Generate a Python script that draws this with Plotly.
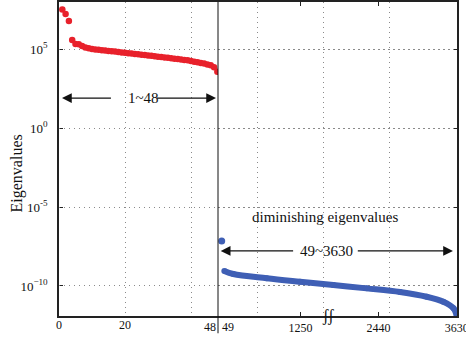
import plotly.graph_objects as go

# ---- data ----
red_idx = list(range(1, 49))
red_vals = [3.24e7, 1.66e7, 5.89e6, 3.72e5, 2.09e5, 2.00e5, 1.55e5, 1.26e5, 1.12e5, 1.02e5,
            9.55e4, 9.12e4, 8.51e4, 8.13e4, 7.59e4, 7.24e4, 6.92e4, 6.46e4, 6.17e4, 5.75e4,
            5.50e4, 5.25e4, 4.90e4, 4.68e4, 4.37e4, 4.17e4, 3.98e4, 3.72e4, 3.55e4, 3.31e4,
            3.16e4, 2.95e4, 2.82e4, 2.63e4, 2.45e4, 2.34e4, 2.19e4, 2.04e4, 1.95e4, 1.78e4,
            1.58e4, 1.45e4, 1.32e4, 1.20e4, 1.07e4, 9.33e3, 7.08e3, 3.63e3]

blue_first_idx = [49]
blue_first_val = [7.1e-8]
blue_idx = [89, 226, 735, 1242, 1750, 2259, 2767, 3173, 3426, 3581, 3630]
blue_vals = [8.9e-10, 5.75e-10, 3.09e-10, 1.86e-10, 1.15e-10, 7.08e-11, 4.17e-11,
             2.09e-11, 1.0e-11, 3.89e-12, 1.41e-12]

left_ticks = [0, 20]
right_ticks = [1250, 2440, 3630]
y_tickvals = [1e-10, 1e-5, 1, 1e5]
y_ticktext = ["10<sup>\u221210</sup>", "10<sup>-5</sup>", "10<sup>0</sup>", "10<sup>5</sup>"]

RED = "#E8212B"
BLUE = "#3F5FB5"
FONT = "Liberation Serif"
SPLIT = 0.3995

fig = go.Figure()
# invisible trace to create the full-width grid subplot
fig.add_trace(go.Scatter(x=[0], y=[1], xaxis="x", yaxis="y", mode="markers",
                         marker=dict(opacity=0), showlegend=False, hoverinfo="skip"))
fig.add_trace(go.Scatter(x=red_idx, y=red_vals, xaxis="x2", yaxis="y", mode="markers",
                         marker=dict(color=RED, size=6.5), showlegend=False))
fig.add_trace(go.Scatter(x=blue_first_idx, y=blue_first_val, xaxis="x3", yaxis="y", mode="markers",
                         marker=dict(color=BLUE, size=7), showlegend=False))
fig.add_trace(go.Scatter(x=blue_idx, y=blue_vals, xaxis="x3", yaxis="y", mode="lines+markers",
                         line=dict(color=BLUE, width=6, shape="spline"),
                         marker=dict(color=BLUE, size=6), showlegend=False))

axcol = "#222222"
gridcol = "#8a8a8a"
GDASH = "1px,4px"

fig.update_layout(
    width=466, height=339,
    margin=dict(l=59, r=9, t=2, b=23),
    paper_bgcolor="white", plot_bgcolor="rgba(0,0,0,0)",
    font=dict(family=FONT, size=13, color="#111"),
    xaxis=dict(domain=[0, 1], range=[0, 120.6], tickvals=[20, 40, 60, 80, 100],
               showticklabels=False, ticks="", showgrid=True, gridcolor=gridcol,
               griddash=GDASH, gridwidth=1, zeroline=False, showline=True,
               linecolor=axcol, linewidth=1.5, mirror=True, anchor="y", automargin=False),
    xaxis2=dict(domain=[0, SPLIT], range=[0, 48.2], tickvals=left_ticks, ticks="",
                showgrid=False, zeroline=False, showline=False, anchor="y", automargin=False,
                tickfont=dict(family=FONT, size=12)),
    xaxis3=dict(domain=[SPLIT, 1], range=[-7.4, 3634.6], tickvals=right_ticks,
                ticks="inside", ticklen=4, tickcolor=axcol, showgrid=False, zeroline=False,
                showline=True, linecolor=axcol, linewidth=1.5, mirror="ticks", anchor="y",
                automargin=False, ticklabeloverflow="allow", tickfont=dict(family=FONT, size=12)),
    yaxis=dict(type="log", range=[-11.9, 7.98], tickvals=y_tickvals, ticktext=y_ticktext,
               ticks="inside", ticklen=4, tickcolor=axcol, showgrid=True, gridcolor=gridcol,
               griddash=GDASH, gridwidth=1, zeroline=False, showline=True, linecolor=axcol,
               linewidth=1.5, mirror="ticks", anchor="x", ticklabelstandoff=7, automargin=False,
               tickfont=dict(family=FONT, size=13)),
)

# separator between the two index ranges
fig.add_shape(type="line", xref="paper", yref="paper", x0=SPLIT, x1=SPLIT, y0=-0.055, y1=1,
              line=dict(color="#111", width=1))

ann = []
# y-axis title
ann.append(dict(xref="paper", yref="paper", x=-0.1055, y=0.454, text="Eigenvalues",
                textangle=-90, showarrow=False, xanchor="center", yanchor="middle",
                font=dict(size=16)))
# 48 | 49 labels
ann.append(dict(xref="x2", yref="paper", x=48, y=0, xanchor="right", yanchor="top",
                text="48", showarrow=False, yshift=-2, xshift=1, font=dict(size=12)))
ann.append(dict(xref="x3", yref="paper", x=49, y=0, xanchor="left", yanchor="top",
                text="49", showarrow=False, yshift=-2, xshift=-2, font=dict(size=12)))
# break symbol
ann.append(dict(xref="x3", yref="paper", x=1664, y=0, xanchor="center", yanchor="middle",
                text="\u0283\u0283", showarrow=False, font=dict(size=16)))
# 1~48 arrow
ann.append(dict(xref="x2", yref="y", x=25.5, y=1.9, text="1~48", showarrow=False,
                font=dict(size=15)))
for head, tail in [(0.9, 16.2), (47.6, 29.2)]:
    ann.append(dict(xref="x2", yref="y", x=head, y=1.9, axref="x2", ayref="pixel",
                    ax=tail, ay=0, text="", showarrow=True, arrowhead=2, arrowsize=1.5,
                    arrowwidth=1.3, arrowcolor="#111", standoff=0, startstandoff=0))
# 49~3630 arrow
ann.append(dict(xref="x3", yref="y", x=1649, y=-7.78, text="49~3630", showarrow=False,
                font=dict(size=15)))
for head, tail in [(34, 1160), (3573, 2100)]:
    ann.append(dict(xref="x3", yref="y", x=head, y=-7.78, axref="x3", ayref="pixel",
                    ax=tail, ay=0, text="", showarrow=True, arrowhead=2, arrowsize=1.5,
                    arrowwidth=1.3, arrowcolor="#111", standoff=0, startstandoff=0))
ann.append(dict(xref="x3", yref="y", x=1623, y=-5.63, text="diminishing eigenvalues",
                showarrow=False, font=dict(size=15)))
fig.update_layout(annotations=ann)

fig.write_html("out.html", config={"displayModeBar": False},
               post_script="document.body.style.margin='0px';")
